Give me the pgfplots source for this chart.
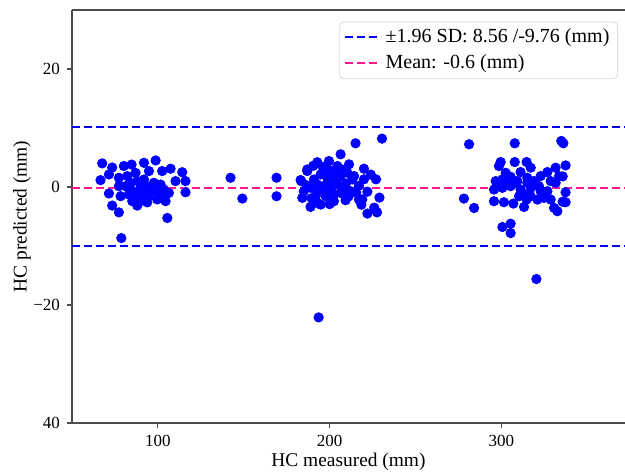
\documentclass[border=0pt]{standalone}
\usepackage{fontspec}
\setmainfont{Liberation Serif}
\usepackage{pgfplots}
\usepackage{pgfplotstable}
\pgfplotsset{compat=1.18}
\definecolor{ptblue}{RGB}{0,0,255}
\definecolor{deeppink}{RGB}{255,20,147}

% HC measured vs HC predicted difference
\pgfplotstableread{
x y
67.6 4.0
73.4 3.3
80.2 3.55
84.7 3.8
91.9 4.1
98.7 4.5
66.6 1.16
71.5 2.13
77.3 1.56
82.2 1.84
87.0 2.4
94.8 2.7
102.5 2.7
107.4 3.1
114.2 2.5
110.3 1.0
116.1 1.0
116.1 -0.9
71.5 -1.1
78.3 -1.56
73.4 -3.15
77.3 -4.3
85.1 -2.4
88.0 -3.15
93.8 -2.6
99.6 -2.1
104.5 -2.4
106.4 -1.0
105.5 -5.25
78.7 -8.66
84.1 0.71
88.0 1.0
91.9 1.28
89.9 -0.14
93.8 0.14
97.7 0.71
101.6 0.42
103.5 -0.43
95.8 -0.71
91.9 -1.0
88.0 -1.0
84.1 -0.43
81.2 0.14
77.3 0.14
99.6 -0.71
101.6 -1.28
94.8 -1.56
86.0 -1.85
89.9 -2.4
83.1 -1.28
142.3 1.57
149.2 -1.96
169.1 1.57
169.1 -1.57
215.1 7.41
206.4 5.54
199.6 4.4
192.8 4.2
211.3 3.84
204.5 3.55
187.0 2.7
183.1 1.17
184.1 -1.84
188.9 -3.37
194.8 -2.98
202.5 -2.41
209.3 -2.24
214.2 1.85
217.1 -2.12
190.9 1.28
194.8 2.13
198.6 1.57
202.5 2.42
206.4 1.85
210.3 2.42
213.2 1.28
188.9 -0.14
192.8 -0.71
196.7 0.15
200.6 -0.42
204.5 0.43
208.3 -0.14
212.2 -0.71
191.9 -1.56
197.7 -1.56
202.5 -1.27
206.4 -0.99
192.8 0.43
198.6 0.71
183.5 0.99
187.0 2.98
190.5 3.6
185.0 -0.72
192.8 -2.69
230.5 8.2
224.0 2.1
220.0 1.3
227.0 1.3
222.0 -0.8
229.0 -1.8
219.0 -2.1
226.0 -3.5
227.6 -4.3
222.0 -4.5
195.5 -0.3
199.5 2.9
186.5 0.3
209.5 0.6
217.0 0.2
215.5 -1.0
220.0 3.1
196.0 3.4
203.0 1.0
189.5 -1.9
211.0 -1.6
218.5 -3.0
200.0 -2.9
207.0 3.0
193.6 -22.1
281.2 7.24
307.8 7.41
334.9 7.81
336.1 7.41
299.6 4.23
307.8 4.23
314.7 4.23
298.6 3.55
317.1 3.27
331.6 3.27
337.4 3.66
302.5 2.41
311.2 2.53
326.8 2.53
333.6 1.85
296.7 1.0
300.6 1.28
305.4 1.73
309.3 1.0
315.1 1.56
319.0 1.0
322.9 1.85
328.7 1.0
331.6 0.71
295.7 -0.43
300.6 -0.14
305.4 0.14
311.2 -0.43
317.1 -0.14
321.9 0.14
326.8 -0.71
313.2 -1.28
321.0 -2.13
324.8 -1.84
328.7 -2.13
295.7 -2.41
301.5 -2.58
307.0 -2.81
314.7 -2.13
313.2 -3.38
330.7 -3.55
332.6 -4.1
337.4 -2.58
278.2 -1.96
284.1 -3.55
300.6 -6.78
305.4 -6.22
305.4 -7.81
320.4 -15.6
299.6 0.71
303.5 1.0
308.3 0.71
315.1 0.71
320.0 0.43
322.9 -0.71
310.3 -1.56
317.1 -1.56
335.7 1.8
337.4 -0.9
335.7 -2.5
}\hcdata

\begin{document}
\begin{tikzpicture}
  \begin{axis}[
    at={(0,0)}, anchor=south west,
    width=276.5pt, height=206.5pt, scale only axis,
    xmin=50, xmax=372, ymin=-40, ymax=30,
    xtick={100,200,300}, ytick={-40,-20,0,20},
    yticklabels={40,−20,0,20},
    axis x line*=box, axis y line*=left,
    axis line style={-, draw=black!70, line width=0.6pt},
    tick style={black!70, line width=0.6pt},
    tick align=outside, tick pos=left, major tick length=2.5pt,
    /pgf/number format/assume math mode=true,
    tick label style={font=\fontsize{8.5}{10}\selectfont},
    label style={font=\fontsize{9.7}{11}\selectfont},
    xlabel={HC measured (mm)}, ylabel={HC predicted (mm)},
    xlabel style={at={(axis description cs:0.5,-0.0944)}, anchor=center},
    ylabel style={at={(axis description cs:-0.0904,0.5)}, anchor=center},
    legend cell align=left,
    legend image code/.code={\draw[#1] (0pt,0pt) -- (18pt,0pt);},
    legend style={at={(0.987,0.972)}, anchor=north east,
      draw=black!15, rounded corners=2pt,
      font=\fontsize{10}{12}\selectfont,
      inner xsep=2pt, inner ysep=1.5pt, row sep=0.5pt},
  ]
    \addplot[only marks, mark=*, mark size=2.35pt,
      mark options={draw=ptblue, fill=ptblue}, forget plot] table[x=x,y=y] {\hcdata};
    \addplot[ptblue, line width=1pt, dash pattern=on 4pt off 2pt]
      coordinates {(50,10.2) (372,10.2)};
    \addlegendentry{±1.96 SD: 8.56 /-9.76 (mm)}
    \addplot[deeppink, line width=1pt, dash pattern=on 4pt off 2pt]
      coordinates {(50,-0.1) (372,-0.1)};
    \addlegendentry{Mean: -0.6 (mm)}
    \addplot[ptblue, line width=1pt, dash pattern=on 4pt off 2pt, forget plot]
      coordinates {(50,-10) (372,-10)};
  \end{axis}
  \pgfresetboundingbox
  \path (-36pt,-24.5pt) rectangle (276.5pt,211.5pt);
\end{tikzpicture}
\end{document}
